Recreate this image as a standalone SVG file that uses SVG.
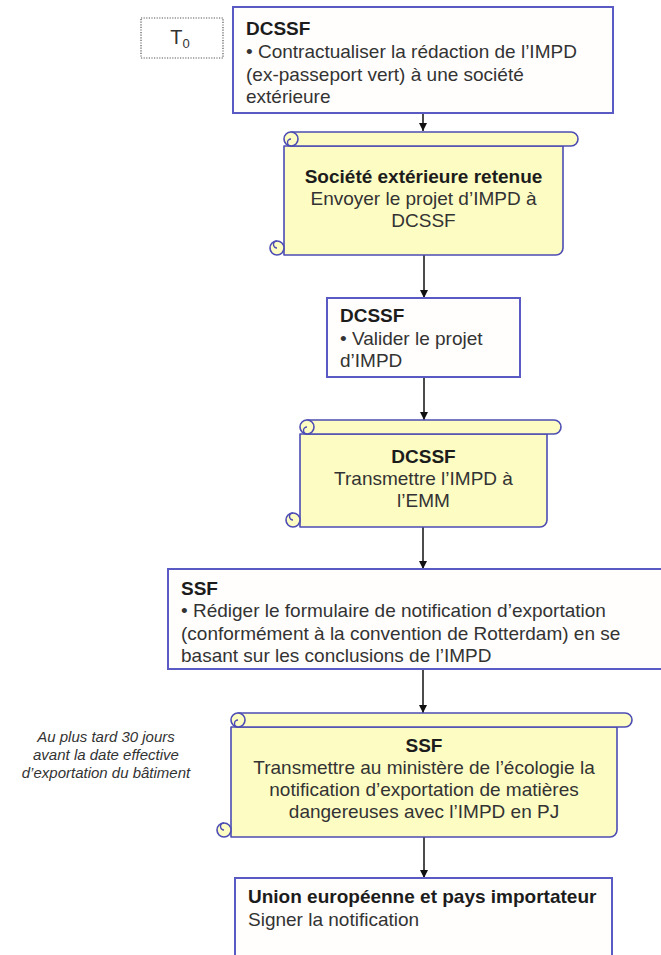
<svg xmlns="http://www.w3.org/2000/svg" width="661" height="955" viewBox="0 0 661 955">
  <defs>
    <marker id="arrow" viewBox="0 0 10 10" refX="10" refY="5" markerWidth="8" markerHeight="9" markerUnits="userSpaceOnUse" orient="auto">
      <path d="M0,0 L10,5 L0,10 z" fill="#111"/>
    </marker>
    <style>
      text { font-family: "Liberation Sans", Arial, sans-serif; font-size: 19px; fill: #333; }
      .b { font-weight: bold; fill: #1c1c1c; }
      .c { text-anchor: middle; }
      .note { font-size: 15px; font-style: italic; text-anchor: middle; fill: #333; }
      .box { fill: #fffefc; stroke: #5a5ac4; stroke-width: 2; }
      .sc { fill: #fdfcc3; stroke: #4c4cb4; stroke-width: 1.6; stroke-linejoin: round; }
      .curl { fill: none; stroke: #4c4cb4; stroke-width: 1.4; }
      .t0 { fill: #fff; stroke: #555; stroke-width: 1.2; stroke-dasharray: 1.2 1.4; }
      .conn { fill: none; stroke: #111; stroke-width: 1.5; marker-end: url(#arrow); }
    </style>
  </defs>

  <rect width="661" height="955" fill="#fff"/>

  <!-- connectors -->
  <g id="connectors">
    <path class="conn" d="M423,113 L423,131"/>
    <path class="conn" d="M424,255 L424,298"/>
    <path class="conn" d="M424,377 L424,420"/>
    <path class="conn" d="M423,527 L423,569"/>
    <path class="conn" d="M423,669 L423,713"/>
    <path class="conn" d="M424,837 L424,878"/>
  </g>

  <!-- T0 marker -->
  <g id="t0">
    <rect class="t0" x="141" y="18" width="82" height="40"/>
    <text x="180" y="44" class="c" style="font-size:20px">T<tspan style="font-size:13px" dy="4">0</tspan></text>
  </g>

  <!-- step 1 -->
  <g id="dcssf-contract">
    <rect class="box" x="233" y="7" width="380" height="106"/>
    <text x="246" y="35" class="b">DCSSF</text>
    <text x="246" y="58">• Contractualiser la rédaction de l’IMPD</text>
    <text x="246" y="80.5">(ex-passeport vert) à une société</text>
    <text x="246" y="103">extérieure</text>
  </g>

  <!-- step 2 (scroll) -->
  <g id="societe-envoyer">
    <path class="sc" d="M284,146 L284,255 L556,255 A7,7 0 0 0 563,248 L563,146 Z"/>
    <path class="sc" d="M291,132 L571,132 A7,7 0 0 1 571,146 L291,146 Z"/>
    <circle class="sc" cx="291" cy="139" r="7"/>
    <path class="curl" d="M291,139 A3.5,3.5 0 0 0 291,146"/>
    <circle class="sc" cx="277" cy="248" r="7"/>
    <path class="curl" d="M277,241 A3.5,3.5 0 0 0 277,248"/>
    <text x="423.5" y="183" class="b c">Société extérieure retenue</text>
    <text x="423.5" y="205" class="c">Envoyer le projet d’IMPD à</text>
    <text x="423.5" y="227" class="c">DCSSF</text>
  </g>

  <!-- step 3 -->
  <g id="dcssf-valider">
    <rect class="box" x="327" y="298" width="193" height="79"/>
    <text x="340" y="322" class="b">DCSSF</text>
    <text x="340" y="345">• Valider le projet</text>
    <text x="340" y="367">d’IMPD</text>
  </g>

  <!-- step 4 (scroll) -->
  <g id="dcssf-transmettre">
    <path class="sc" d="M300,434 L300,527 L540,527 A7,7 0 0 0 547,520 L547,434 Z"/>
    <path class="sc" d="M307,420 L554,420 A7,7 0 0 1 554,434 L307,434 Z"/>
    <circle class="sc" cx="307" cy="427" r="7"/>
    <path class="curl" d="M307,427 A3.5,3.5 0 0 0 307,434"/>
    <circle class="sc" cx="293" cy="520" r="7"/>
    <path class="curl" d="M293,513 A3.5,3.5 0 0 0 293,520"/>
    <text x="423.5" y="463" class="b c">DCSSF</text>
    <text x="423.5" y="485" class="c">Transmettre l’IMPD à</text>
    <text x="423.5" y="507" class="c">l’EMM</text>
  </g>

  <!-- step 5 -->
  <g id="ssf-rediger">
    <rect class="box" x="168" y="569" width="510" height="100"/>
    <text x="181" y="595" class="b">SSF</text>
    <text x="181" y="617">• Rédiger le formulaire de notification d’exportation</text>
    <text x="181" y="640">(conformément à la convention de Rotterdam) en se</text>
    <text x="181" y="662">basant sur les conclusions de l’IMPD</text>
  </g>

  <!-- deadline note -->
  <g id="note-delai">
    <text x="106" y="742" class="note">Au plus tard 30 jours</text>
    <text x="106" y="760" class="note">avant la date effective</text>
    <text x="106" y="778" class="note">d’exportation du bâtiment</text>
  </g>

  <!-- step 6 (scroll) -->
  <g id="ssf-transmettre">
    <path class="sc" d="M231,727 L231,837 L610,837 A7,7 0 0 0 617,830 L617,727 Z"/>
    <path class="sc" d="M238,713 L625,713 A7,7 0 0 1 625,727 L238,727 Z"/>
    <circle class="sc" cx="238" cy="720" r="7"/>
    <path class="curl" d="M238,720 A3.5,3.5 0 0 0 238,727"/>
    <circle class="sc" cx="224" cy="830" r="7"/>
    <path class="curl" d="M224,823 A3.5,3.5 0 0 0 224,830"/>
    <text x="424" y="752" class="b c">SSF</text>
    <text x="424" y="774" class="c">Transmettre au ministère de l’écologie la</text>
    <text x="424" y="796" class="c">notification d’exportation de matières</text>
    <text x="424" y="818" class="c">dangereuses avec l’IMPD en PJ</text>
  </g>

  <!-- step 7 -->
  <g id="ue-signer">
    <rect class="box" x="235" y="878" width="377" height="95"/>
    <text x="248" y="903" class="b">Union européenne et pays importateur</text>
    <text x="248" y="926">Signer la notification</text>
  </g>
</svg>
